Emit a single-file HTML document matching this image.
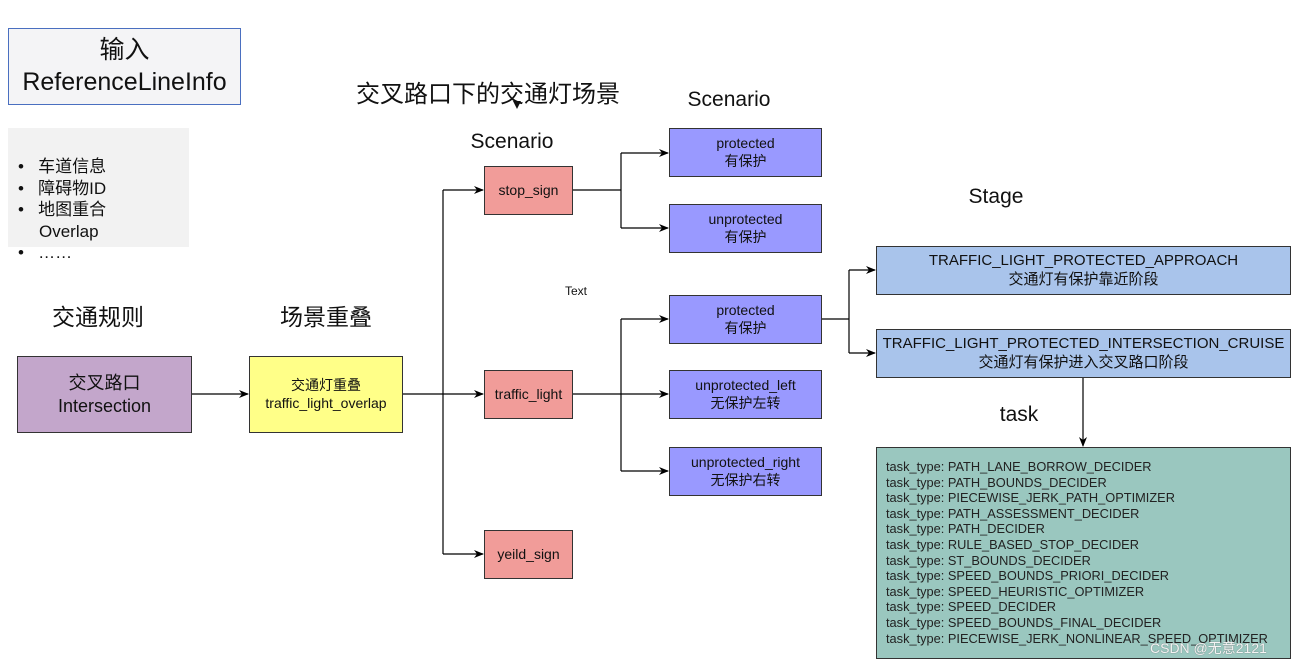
<!DOCTYPE html>
<html><head><meta charset="utf-8"><style>
body{margin:0;width:1296px;height:666px;background:#fff;position:relative;overflow:hidden;font-family:"Liberation Sans","Noto Sans CJK SC",sans-serif;color:#111}
.a{position:absolute}
.b{position:absolute;box-sizing:border-box;border:1.5px solid #333;display:flex;flex-direction:column;align-items:center;justify-content:center;text-align:center;line-height:1.25}
.lbl{position:absolute;transform:translateX(-50%);white-space:nowrap}
.r{background:#f19c99;font-size:14px}
.p{background:#9999ff;font-size:14px}
.s{background:#a9c4eb;font-size:15px}
</style></head><body>
<div class="b" style="left:8px;top:28px;width:233px;height:77px;background:#f4f4f6;border:1.5px solid #4a6fc0;font-size:25px;line-height:1.25">输入<br>ReferenceLineInfo</div>
<div class="a" style="left:8px;top:128px;width:181px;height:119px;background:#f2f2f2"></div>
<div class="a" style="left:18px;top:156px;font-size:17px;line-height:21.5px">
<div>•&nbsp;&nbsp; 车道信息</div><div>•&nbsp;&nbsp; 障碍物ID</div><div>•&nbsp;&nbsp; 地图重合</div><div style="padding-left:21px">Overlap</div><div>•&nbsp;&nbsp; ……</div></div>
<div class="lbl" style="left:98px;top:298px;font-size:23px">交通规则</div>
<div class="lbl" style="left:326px;top:298px;font-size:23px">场景重叠</div>
<div class="lbl" style="left:488px;top:74px;font-size:24px">交叉路口下的交通灯场景</div>
<div class="lbl" style="left:512px;top:130px;font-size:21px">Scenario</div>
<div class="lbl" style="left:729px;top:88px;font-size:21px">Scenario</div>
<div class="lbl" style="left:996px;top:185px;font-size:21px">Stage</div>
<div class="lbl" style="left:1019px;top:403px;font-size:21px">task</div>
<div class="a" style="left:565px;top:284px;font-size:12px">Text</div>
<svg class="a" style="left:0;top:0" width="1296" height="666">
<defs><marker id="m" markerWidth="10" markerHeight="10" refX="9" refY="5" orient="auto" markerUnits="userSpaceOnUse"><path d="M0,1 L10,5 L0,9 L3,5z" fill="#000"/></marker></defs>
<g stroke="#000" stroke-width="1.2" fill="none">
<line x1="191" y1="394" x2="248" y2="394" marker-end="url(#m)"/>
<polyline points="402,394 443,394"/>
<line x1="443" y1="190" x2="443" y2="554"/>
<line x1="443" y1="190" x2="483" y2="190" marker-end="url(#m)"/>
<line x1="443" y1="394" x2="483" y2="394" marker-end="url(#m)"/>
<line x1="443" y1="554" x2="483" y2="554" marker-end="url(#m)"/>
<line x1="572" y1="190" x2="621" y2="190"/>
<line x1="621" y1="153" x2="621" y2="228"/>
<line x1="621" y1="153" x2="668" y2="153" marker-end="url(#m)"/>
<line x1="621" y1="228" x2="668" y2="228" marker-end="url(#m)"/>
<line x1="572" y1="394" x2="621" y2="394"/>
<line x1="621" y1="319" x2="621" y2="471"/>
<line x1="621" y1="319" x2="668" y2="319" marker-end="url(#m)"/>
<line x1="621" y1="394" x2="668" y2="394" marker-end="url(#m)"/>
<line x1="621" y1="471" x2="668" y2="471" marker-end="url(#m)"/>
<line x1="821" y1="319" x2="849" y2="319"/>
<line x1="849" y1="270" x2="849" y2="353"/>
<line x1="849" y1="270" x2="875" y2="270" marker-end="url(#m)"/>
<line x1="849" y1="353" x2="875" y2="353" marker-end="url(#m)"/>
<line x1="1083" y1="377" x2="1083" y2="446" marker-end="url(#m)"/>
</g>
<path d="M513,101 L521,101 L517,109z" fill="#111"/>
</svg>
<div class="b" style="left:17px;top:356px;width:175px;height:77px;background:#c3a6cb;font-size:18px">交叉路口<br>Intersection</div>
<div class="b" style="left:249px;top:356px;width:154px;height:77px;background:#ffff88;font-size:14px">交通灯重叠<br>traffic_light_overlap</div>
<div class="b r" style="left:484px;top:166px;width:89px;height:49px">stop_sign</div>
<div class="b r" style="left:484px;top:370px;width:89px;height:49px">traffic_light</div>
<div class="b r" style="left:484px;top:530px;width:89px;height:49px">yeild_sign</div>
<div class="b p" style="left:669px;top:128px;width:153px;height:49px">protected<br>有保护</div>
<div class="b p" style="left:669px;top:204px;width:153px;height:49px">unprotected<br>有保护</div>
<div class="b p" style="left:669px;top:295px;width:153px;height:49px">protected<br>有保护</div>
<div class="b p" style="left:669px;top:370px;width:153px;height:49px">unprotected_left<br>无保护左转</div>
<div class="b p" style="left:669px;top:447px;width:153px;height:49px">unprotected_right<br>无保护右转</div>
<div class="b s" style="left:876px;top:246px;width:415px;height:49px">TRAFFIC_LIGHT_PROTECTED_APPROACH<br>交通灯有保护靠近阶段</div>
<div class="b s" style="left:876px;top:329px;width:415px;height:49px">TRAFFIC_LIGHT_PROTECTED_INTERSECTION_CRUISE<br>交通灯有保护进入交叉路口阶段</div>
<div class="a" style="left:876px;top:447px;width:415px;height:212px;box-sizing:border-box;border:1.5px solid #333;background:#9ac7bf;font-size:12.8px;line-height:15.6px;padding:11px 0 0 9px;white-space:nowrap;color:#222">
task_type: PATH_LANE_BORROW_DECIDER<br>task_type: PATH_BOUNDS_DECIDER<br>task_type: PIECEWISE_JERK_PATH_OPTIMIZER<br>task_type: PATH_ASSESSMENT_DECIDER<br>task_type: PATH_DECIDER<br>task_type: RULE_BASED_STOP_DECIDER<br>task_type: ST_BOUNDS_DECIDER<br>task_type: SPEED_BOUNDS_PRIORI_DECIDER<br>task_type: SPEED_HEURISTIC_OPTIMIZER<br>task_type: SPEED_DECIDER<br>task_type: SPEED_BOUNDS_FINAL_DECIDER<br>task_type: PIECEWISE_JERK_NONLINEAR_SPEED_OPTIMIZER</div>
<div class="a" style="left:1150px;top:638px;font-size:14px;color:#f4f4f4;text-shadow:0 0 1px #666">CSDN @无意2121</div>
</body></html>
